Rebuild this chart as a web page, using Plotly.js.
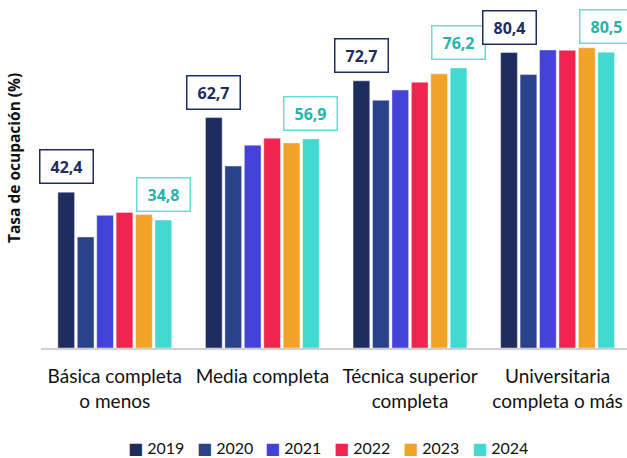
<!DOCTYPE html>
<html>
<head>
<meta charset="utf-8">
<script src="https://cdn.plot.ly/plotly-3.0.1.min.js"></script>
<style>body{margin:0;background:#fff}#chart{width:627px;height:458px}</style>
</head>
<body>
<div id="chart"></div>
<script>
const categories = ["Básica completa<br>o menos", "Media completa", "Técnica superior<br>completa", "Universitaria<br>completa o más"];
const years = ["2019", "2020", "2021", "2022", "2023", "2024"];
const v2019 = [42.4, 62.7, 72.7, 80.4];
const v2020 = [30.2, 49.5, 67.4, 74.4];
const v2021 = [36.1, 55.2, 70.2, 81.1];
const v2022 = [36.9, 57.1, 72.3, 81.0];
const v2023 = [36.3, 55.8, 74.6, 81.7];
const v2024 = [34.8, 56.9, 76.2, 80.5];
const colors = ["#1e2d5e", "#2a428a", "#4343da", "#f12450", "#f2a229", "#44d9d0"];

const series = [v2019, v2020, v2021, v2022, v2023, v2024];
const traces = series.map((vals, i) => ({
  type: "bar",
  name: years[i],
  x: categories,
  y: vals,
  marker: {color: colors[i], line: {color: "rgba(255,255,255,0.5)", width: 0.8}},
  hoverinfo: "skip"
}));

const W = 627, H = 458;
const margin = {l: 41, r: 0, t: 0, b: 110};
const plotW = W - margin.l - margin.r;
const plotH = H - margin.t - margin.b;
const catW = 147.6;
const xmax = -0.5 + plotW / catW;
const bargap = 0.21;
const slot = catW * (1 - bargap) / 6;

function fmt(v) { return v.toFixed(1).replace(".", ","); }
const px2x = p => (p - margin.l) / plotW;
const px2y = p => (plotH - (p - margin.t)) / plotH;

const annotations = [];
categories.forEach((c, i) => {
  annotations.push({
    x: c, y: v2019[i], xref: "x", yref: "y",
    text: "<b>" + fmt(v2019[i]) + "</b>",
    showarrow: false, yanchor: "bottom", xanchor: "center",
    xshift: -2.5 * slot, yshift: 8,
    font: {family: "Open Sans", size: 16, color: "#1e2d5e"},
    bordercolor: "#1e2d5e", borderwidth: 1.5, borderpad: 5,
    bgcolor: "#ffffff", width: 42, height: 22
  });
  annotations.push({
    x: c, y: v2024[i], xref: "x", yref: "y",
    text: "<b>" + fmt(v2024[i]) + "</b>",
    showarrow: false, yanchor: "bottom", xanchor: "center",
    xshift: 2.5 * slot, yshift: 8,
    font: {family: "Open Sans", size: 16, color: "#26b3aa"},
    bordercolor: "#5fe0d8", borderwidth: 1.5, borderpad: 5,
    bgcolor: "#ffffff", width: 42, height: 22
  });
});

// y-axis title placed as a rotated annotation (positioned like the reference)
annotations.push({
  xref: "paper", yref: "paper",
  x: px2x(14), y: px2y(158),
  xanchor: "center", yanchor: "middle",
  text: "<b>Tasa de ocupación (%)</b>", textangle: -90, showarrow: false,
  font: {family: "Open Sans", size: 15.5, color: "#111111"}
});

// legend row: coloured square + year, one entry per series
const legendStart = 126, legendPitch = 68.7, legendY = 447;
years.forEach((yr, i) => {
  annotations.push({
    xref: "paper", yref: "paper",
    x: px2x(legendStart + i * legendPitch), y: px2y(legendY),
    xanchor: "left", yanchor: "middle", showarrow: false,
    text: "<span style='color:" + colors[i] + "'>■</span> " + yr,
    font: {family: "Lato, 'DejaVu Sans'", size: 16, color: "#111111"}
  });
});

const layout = {
  width: W, height: H,
  margin: margin,
  paper_bgcolor: "#ffffff", plot_bgcolor: "#ffffff",
  barmode: "group",
  bargap: bargap,
  bargroupgap: 0.14,
  showlegend: false,
  font: {family: "Lato, 'Liberation Sans', sans-serif", color: "#111111"},
  xaxis: {
    type: "category",
    range: [-0.5, xmax],
    showline: true, linecolor: "#d0d0d0", linewidth: 2,
    ticks: "", showgrid: false,
    ticklabelstandoff: 10,
    tickfont: {family: "Lato", size: 19, color: "#111111"},
    fixedrange: true
  },
  yaxis: {
    range: [0, 94.7],
    showticklabels: false, showgrid: false, zeroline: false, showline: false,
    fixedrange: true
  },
  annotations: annotations
};

Plotly.newPlot("chart", traces, layout, {displayModeBar: false, staticPlot: true});
</script>
</body>
</html>
